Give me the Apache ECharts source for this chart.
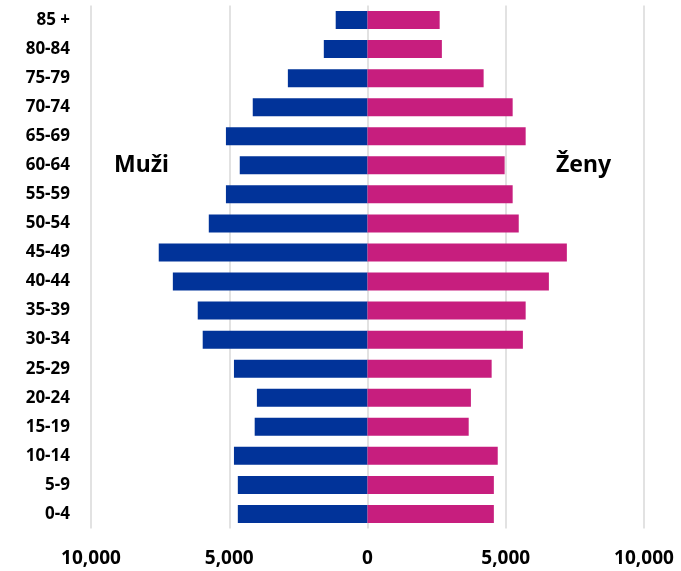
<!DOCTYPE html>
<html>
<head>
<meta charset="utf-8">
<script src="https://cdn.jsdelivr.net/npm/echarts@6/dist/echarts.min.js"></script>
<style>
  html, body { margin: 0; padding: 0; background: #fff; }
  #chart { width: 681px; height: 571px; }
</style>
</head>
<body>
<div id="chart"></div>
<script>
// věkové skupiny (zdola nahoru)
const ageGroups = ['0-4', '5-9', '10-14', '15-19', '20-24', '25-29', '30-34', '35-39', '40-44',
  '45-49', '50-54', '55-59', '60-64', '65-69', '70-74', '75-79', '80-84', '85 +'];
const male = [4690, 4690, 4830, 4080, 4000, 4830, 5960, 6140, 7040,
  7550, 5740, 5120, 4620, 5120, 4150, 2880, 1580, 1150];
const female = [4570, 4570, 4710, 3660, 3740, 4490, 5620, 5720, 6560,
  7210, 5470, 5250, 4960, 5720, 5250, 4200, 2690, 2610];
const axisMin = -10000;
const axisMax = 10000;
const tickStep = 5000;

const FONT = '"Noto Sans", "Open Sans", sans-serif';

const chart = echarts.init(document.getElementById('chart'));

const fmt = (v) => Math.abs(v).toLocaleString('en-US');

chart.setOption({
  animation: false,
  grid: { left: 91, right: 37, top: 5.5, bottom: 42.5, containLabel: false },
  xAxis: {
    type: 'value',
    min: axisMin,
    max: axisMax,
    interval: tickStep,
    axisLine: { show: false },
    axisTick: { show: false },
    splitLine: { lineStyle: { color: '#d9d9d9', width: 1.5 } },
    axisLabel: {
      formatter: fmt,
      margin: 21,
      color: '#000',
      fontFamily: FONT,
      fontWeight: 'bold',
      fontSize: 19
    }
  },
  yAxis: {
    type: 'category',
    data: ageGroups,
    axisLine: { show: false },
    axisTick: { show: false },
    axisLabel: {
      margin: 21,
      color: '#000',
      fontFamily: FONT,
      fontWeight: 'bold',
      fontSize: 17
    }
  },
  series: [
    {
      name: 'Muži',
      type: 'bar',
      stack: 'pop',
      barWidth: 18,
      itemStyle: { color: '#013399' },
      data: male.map(v => -v)
    },
    {
      name: 'Ženy',
      type: 'bar',
      stack: 'pop',
      barWidth: 18,
      itemStyle: { color: '#c71e7e' },
      data: female
    }
  ],
  graphic: [
    {
      type: 'text', left: 114, top: 154,
      style: { text: 'Muži', font: 'bold 23px ' + FONT, fill: '#000' }
    },
    {
      type: 'text', left: 556, top: 154,
      style: { text: 'Ženy', font: 'bold 23px ' + FONT, fill: '#000' }
    }
  ]
});
</script>
</body>
</html>
